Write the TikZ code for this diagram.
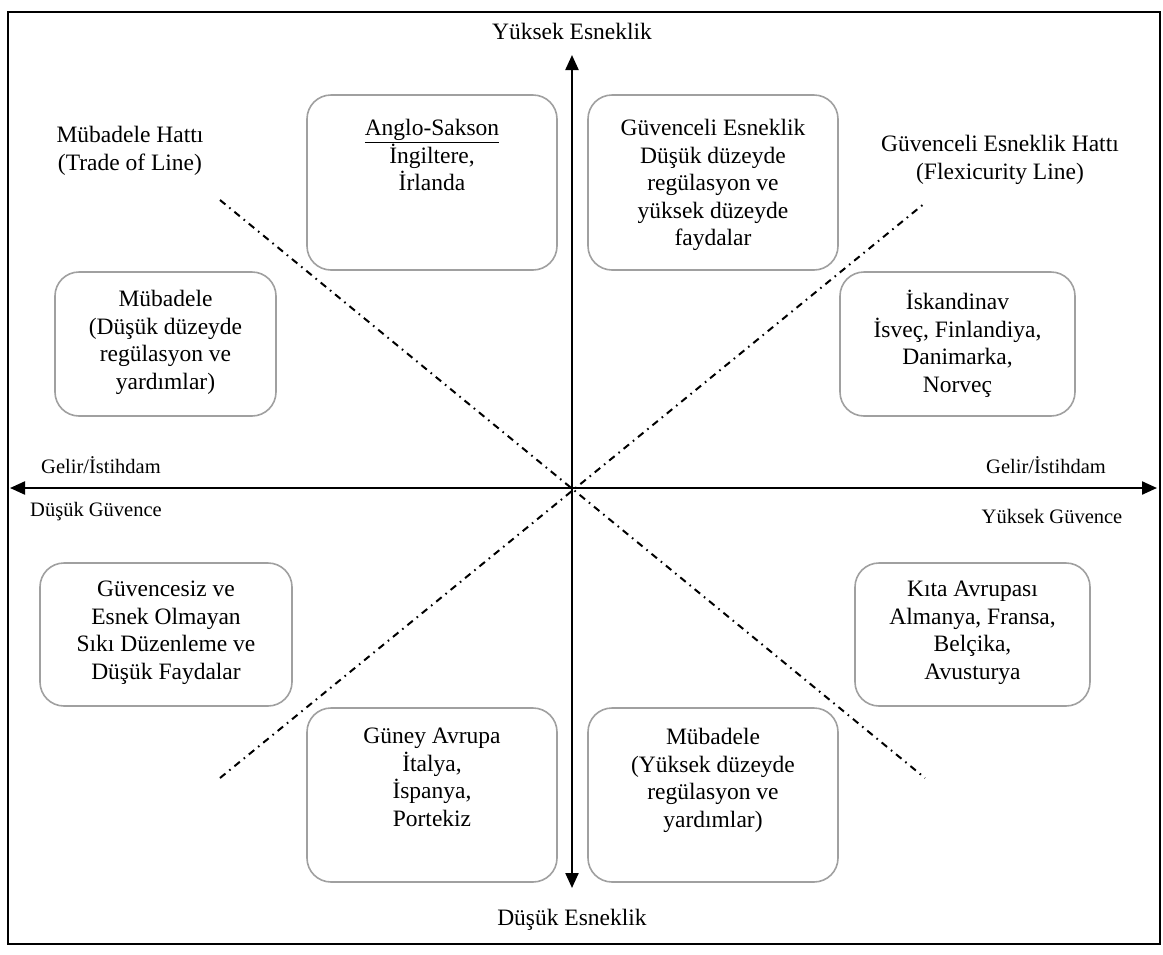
\documentclass[tikz,border=0pt]{standalone}
\usepackage{fontspec}
\setmainfont{Liberation Serif}
\usepackage{xcolor}
\usepackage{tikz}
\usetikzlibrary{arrows.meta, positioning}
\definecolor{kutugri}{RGB}{160,160,160}

\begin{document}
\begin{tikzpicture}[x=1pt, y=-1pt, every node/.style={font=\fontsize{23.5}{27.5}\selectfont, align=center, inner sep=0pt},
  kutu/.style={draw=kutugri, line width=1.6pt, rounded corners=24pt},
  kucuk/.style={font=\fontsize{20.5}{24}\selectfont},
  eksen/.style={line width=2.2pt, {Triangle[length=15pt, width=13pt]}-{Triangle[length=15pt, width=13pt]}},
  hat/.style={line width=2pt, dash pattern=on 7pt off 5pt on 1.6pt off 5pt}]
\useasboundingbox (0,0) rectangle (1163,954);
\draw[line width=1.5pt] (8,12) rectangle (1160,944);

% eksenler
\coordinate (merkez) at (572,488);
\coordinate (ust) at (572,55);
\coordinate (alt) at (572,888);
\coordinate (sol) at (10,488);
\coordinate (sag) at (1157,488);
\draw[eksen] (sol) -- (sag);
\draw[eksen] (alt) -- (ust);
\node (yuksekesn) at (572,31) {Yüksek Esneklik};
\node (dusukesn) at (572,920) {Düşük Esneklik};
\node[kucuk] (gelirsol) at (101,465) {Gelir/İstihdam};
\node[kucuk] (dusukguv) at (96,512) {Düşük Güvence};
\node[kucuk] (gelirsag) at (1046,465) {Gelir/İstihdam};
\node[kucuk] (yuksekguv) at (1052,516) {Yüksek Güvence};

% hatlar
\coordinate (mub1) at (220,200);
\coordinate (mub2) at (925,778);
\coordinate (flex1) at (220,778);
\coordinate (flex2) at (925,203);
\draw[hat] (mub1) -- (mub2);
\draw[hat] (flex1) -- (flex2);
\node (mubhat) at (130,151) {Mübadele Hattı\\(Trade of Line)};
\node (flexhat) at (1000,160) {Güvenceli Esneklik Hattı\\(Flexicurity Line)};

% kutular
\node[kutu, minimum width=250pt, minimum height=175pt] (anglo) at (432,182.5) {};
\node[kutu, minimum width=250pt, minimum height=175pt] (guvenceli) at (713,182.5) {};
\node[kutu, minimum width=221pt, minimum height=144pt] (mubsol) at (165.5,344) {};
\node[kutu, minimum width=235pt, minimum height=144pt] (iskandinav) at (957.5,344) {};
\node[kutu, minimum width=252pt, minimum height=143pt] (guvencesiz) at (166,634.5) {};
\node[kutu, minimum width=235pt, minimum height=143pt] (kita) at (972.5,634.5) {};
\node[kutu, minimum width=250pt, minimum height=174pt] (guney) at (432,795) {};
\node[kutu, minimum width=250pt, minimum height=174pt] (mubsag) at (713,795) {};

\node[below=25pt of anglo.north] (angloyazi) {\underline{Anglo-Sakson}\\İngiltere,\\İrlanda};
\node[below=25pt of guvenceli.north] (guvenceliyazi) {Güvenceli Esneklik\\Düşük düzeyde\\regülasyon ve\\yüksek düzeyde\\faydalar};
\node[below=19pt of mubsol.north] (mubsolyazi) {Mübadele\\(Düşük düzeyde\\regülasyon ve\\yardımlar)};
\node[below=19pt of iskandinav.north] (iskandinavyazi) {İskandinav\\İsveç, Finlandiya,\\Danimarka,\\Norveç};
\node[below=19pt of guvencesiz.north] (guvencesizyazi) {Güvencesiz ve\\Esnek Olmayan\\Sıkı Düzenleme ve\\Düşük Faydalar};
\node[below=19pt of kita.north] (kitayazi) {Kıta Avrupası\\Almanya, Fransa,\\Belçika,\\Avusturya};
\node[below=21pt of guney.north] (guneyyazi) {Güney Avrupa\\İtalya,\\İspanya,\\Portekiz};
\node[below=21pt of mubsag.north] (mubsagyazi) {Mübadele\\(Yüksek düzeyde\\regülasyon ve\\yardımlar)};
\end{tikzpicture}
\end{document}
